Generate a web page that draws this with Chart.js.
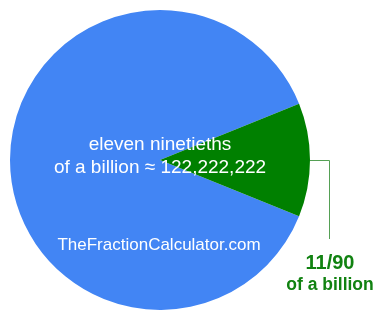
<!DOCTYPE html>
<html>
<head>
<meta charset="utf-8">
<script src="https://cdn.jsdelivr.net/npm/chart.js@4"></script>
<style>
  html, body { margin: 0; padding: 0; background: #fff; }
  #pie { display: block; }
</style>
</head>
<body>
<canvas id="pie" width="385" height="320"></canvas>
<script>
const labels = ['rest of a billion', '11/90 of a billion'];
const values = [79, 11];
const colors = ['#4285f4', '#008000'];

const centerLines = ['eleven ninetieths', 'of a billion \u2248 122,222,222'];
const siteName = 'TheFractionCalculator.com';
const sliceLabel = ['11/90', 'of a billion'];

const textPlugin = {
  id: 'pieText',
  afterDraw: function (chart) {
    const c = chart.ctx;
    const arc = chart.getDatasetMeta(0).data[1];
    const mid = (arc.startAngle + arc.endAngle) / 2;
    const r = arc.outerRadius;
    const px = arc.x + Math.cos(mid) * r;
    const py = arc.y + Math.sin(mid) * r;

    c.save();
    // leader line
    c.strokeStyle = '#55a055';
    c.lineWidth = 1;
    c.beginPath();
    c.moveTo(px, Math.round(py) + 0.5);
    c.lineTo(329.5, Math.round(py) + 0.5);
    c.lineTo(329.5, 239);
    c.stroke();

    c.textAlign = 'center';
    c.textBaseline = 'alphabetic';
    c.fillStyle = '#ffffff';
    c.font = '19px "Liberation Sans", Arial, sans-serif';
    c.fillText(centerLines[0], 160, 150);
    c.fillText(centerLines[1], 160, 173);
    c.font = '17px "Liberation Sans", Arial, sans-serif';
    c.fillText(siteName, 159, 250);

    c.fillStyle = '#118211';
    c.font = 'bold 20px "Liberation Sans", Arial, sans-serif';
    c.fillText(sliceLabel[0], 330, 269);
    c.font = 'bold 17.5px "Liberation Sans", Arial, sans-serif';
    c.fillText(sliceLabel[1], 330, 290);
    c.restore();
  }
};

const ctx = document.getElementById('pie');

new Chart(ctx, {
  type: 'pie',
  data: {
    labels: labels,
    datasets: [{
      data: values,
      backgroundColor: colors,
      borderWidth: 0
    }]
  },
  options: {
    responsive: false,
    animation: false,
    rotation: 112,
    layout: {
      padding: { left: 10, top: 10, bottom: 10, right: 75 }
    },
    plugins: {
      legend: { display: false },
      tooltip: { enabled: false }
    }
  },
  plugins: [textPlugin]
});
</script>
</body>
</html>
